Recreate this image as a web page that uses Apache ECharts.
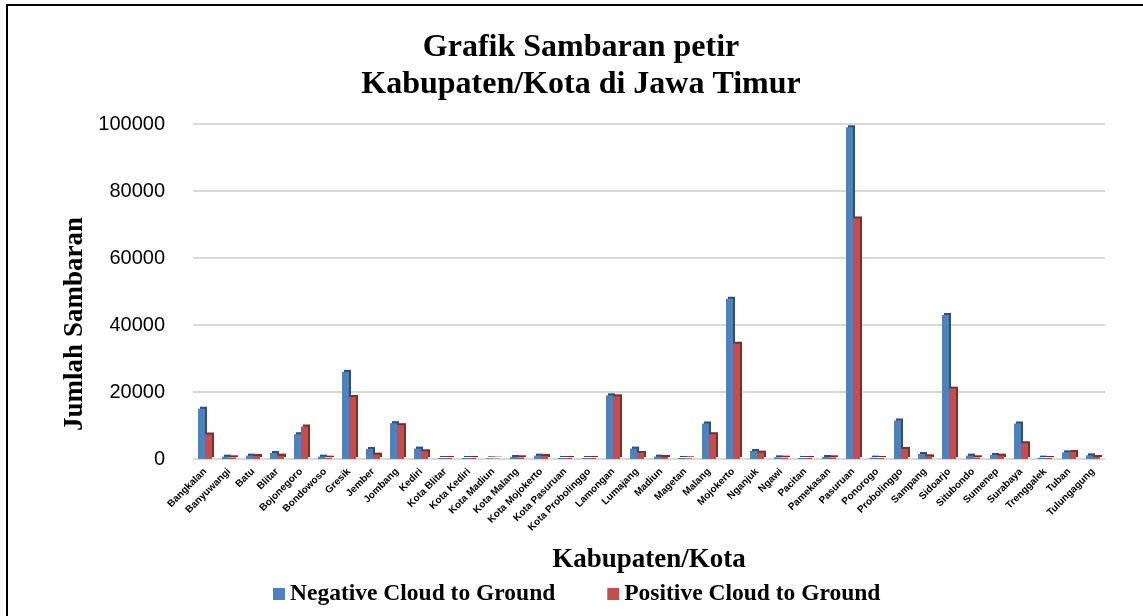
<!DOCTYPE html>
<html>
<head>
<meta charset="utf-8">
<script src="https://cdn.jsdelivr.net/npm/echarts@6/dist/echarts.min.js"></script>
<style>html,body{margin:0;padding:0;background:#fff;}#c{width:1143px;height:616px;}</style>
</head>
<body>
<div id="c"></div>
<script>
const categories = ["Bangkalan","Banyuwangi","Batu","Blitar","Bojonegoro","Bondowoso","Gresik","Jember","Jombang","Kediri","Kota Blitar","Kota Kediri","Kota Madiun","Kota Malang","Kota Mojokerto","Kota Pasuruan","Kota Probolinggo","Lamongan","Lumajang","Madiun","Magetan","Malang","Mojokerto","Nganjuk","Ngawi","Pacitan","Pamekasan","Pasuruan","Ponorogo","Probolinggo","Sampang","Sidoarjo","Situbondo","Sumenep","Surabaya","Trenggalek","Tuban","Tulungagung"];
const negativeCG = [15000,700,1000,1800,7400,700,26000,3000,10700,3100,300,300,200,600,1000,300,300,19000,3100,700,300,10600,47800,2400,500,300,600,99000,400,11500,1500,43000,1000,1200,10600,400,2000,1100];
const positiveCG = [7300,500,900,1000,9700,400,18500,1300,10100,2300,300,300,100,500,900,300,300,18700,1800,600,200,7400,34400,1900,400,300,500,71800,300,3000,800,21000,500,1000,4700,300,2100,600];
const seriesNames = ["Negative Cloud to Ground","Positive Cloud to Ground"];
const yTicks = {min:0, max:100000, interval:20000};

const serif = "'Liberation Serif','Times New Roman',serif";
const sans = "'Liberation Sans',Arial,sans-serif";
const chart = echarts.init(document.getElementById('c'), null, {renderer:'canvas'});
chart.setOption({
  animation:false,
  backgroundColor:'#fff',
  graphic:[
    {type:'rect', shape:{x:7,y:5,width:1150,height:620}, style:{fill:'none', stroke:'#000', lineWidth:2}},
    {type:'text', x:75, y:324, rotation:Math.PI/2,
     style:{text:'Jumlah Sambaran', fontFamily:serif, fontWeight:'bold', fontSize:27, fill:'#000', align:'center', verticalAlign:'middle'}}
  ],
  title:{
    text:'Grafik Sambaran petir\nKabupaten/Kota di Jawa Timur',
    left:576, textAlign:'center', top:24,
    textStyle:{fontFamily:serif, fontWeight:'bold', fontSize:32, lineHeight:37, color:'#000'}
  },
  legend:{
    data:seriesNames, left:268, top:577, itemWidth:12, itemHeight:12, itemGap:52,
    icon:'rect',
    textStyle:{fontFamily:serif, fontWeight:'bold', fontSize:23.5, color:'#000'}
  },
  grid:{left:193, right:38, top:124, bottom:157},
  xAxis:{
    type:'category', data:categories,
    name:'Kabupaten/Kota', nameLocation:'middle', nameGap:88,
    nameTextStyle:{fontFamily:serif, fontWeight:'bold', fontSize:27, color:'#000'},
    axisLine:{show:false}, axisTick:{show:false},
    axisLabel:{interval:0, rotate:45, fontFamily:sans, fontWeight:'bold', fontSize:10, color:'#000', margin:11}
  },
  yAxis:{
    type:'value', min:yTicks.min, max:yTicks.max, interval:yTicks.interval,
    axisLine:{show:false}, axisTick:{show:false},
    axisLabel:{fontFamily:sans, fontSize:20, color:'#000', margin:28, formatter:function(v){return String(v);}},
    splitLine:{lineStyle:{color:'#D9D9D9', width:2}}
  },
  series:[
    {name:seriesNames[0], type:'bar', data:negativeCG, barWidth:7, barGap:'0%',
     itemStyle:{color:'#4F81BD', shadowColor:'#2E4F7A', shadowOffsetX:2, shadowOffsetY:-2, shadowBlur:0}},
    {name:seriesNames[1], type:'bar', data:positiveCG, barWidth:7,
     itemStyle:{color:'#C0504D', shadowColor:'#7A2F2D', shadowOffsetX:2, shadowOffsetY:-2, shadowBlur:0}}
  ]
});
</script>
</body>
</html>
